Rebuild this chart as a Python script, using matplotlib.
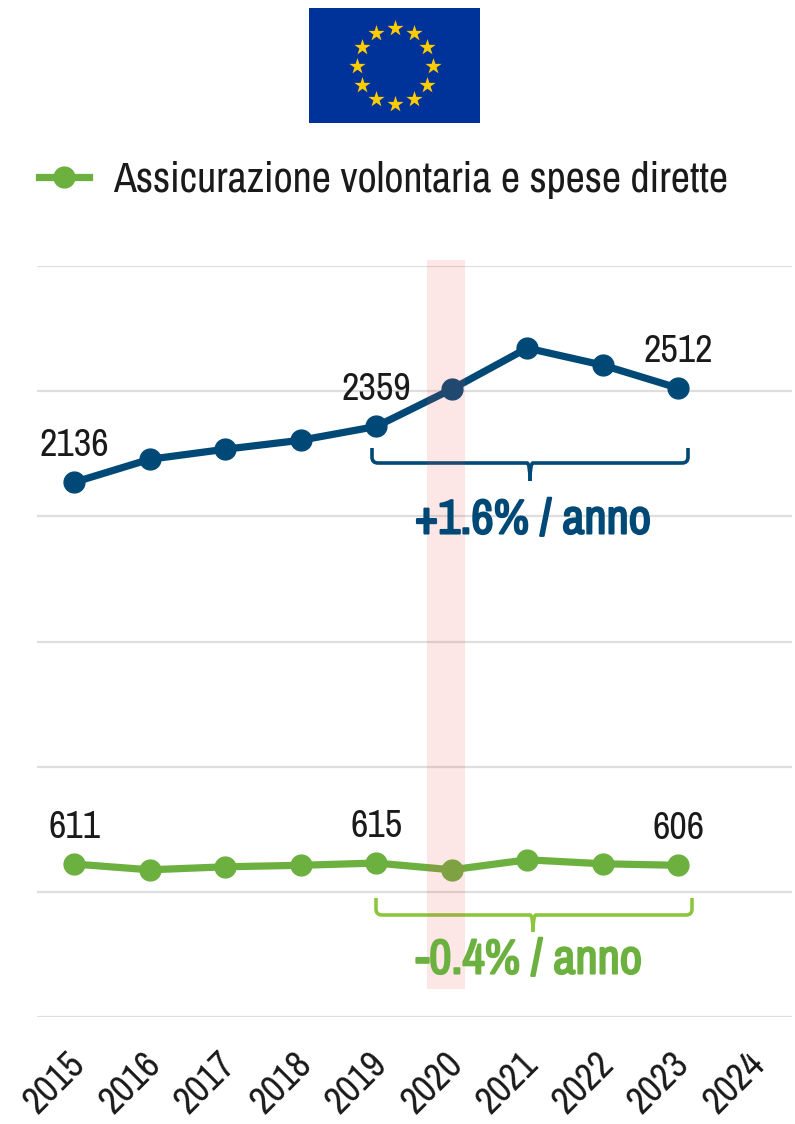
import numpy as np
import matplotlib
matplotlib.use("Agg")
import matplotlib.pyplot as plt
import matplotlib.patheffects as pe
from matplotlib.path import Path
from matplotlib.patches import PathPatch, Rectangle
from matplotlib.transforms import ScaledTranslation

plt.rcParams['font.family'] = ['Archivo Narrow', 'Roboto Condensed', 'Liberation Sans', 'DejaVu Sans']

years = ['2015', '2016', '2017', '2018', '2019', '2020', '2021', '2022', '2023', '2024']
pubblica = [2136, 2228, 2268, 2304, 2359, 2508, 2672, 2604, 2512]
volontaria = [611, 588, 600, 606, 615, 588, 628, 612, 606]
yticks = [0, 500, 1000, 1500, 2000, 2500, 3000]
labelled = [0, 4, 8]
legend_label = 'Assicurazione volontaria e spese dirette'

navy = '#004976'
green = '#6CB03F'
bracket_green = '#8CC63F'
W, H = 795, 1124

fig = plt.figure(figsize=(W / 100, H / 100), dpi=100)
ax = fig.add_axes([36.5 / W, 1 - 1017 / H, (791.5 - 36.5) / W, (1017 - 266) / H])
ax.set_xlim(-0.5, 9.5)
ax.set_ylim(0, 3000)
ax.set_yticks(yticks)
ax.set_xticks(range(len(years)))
ax.set_xticklabels(years, rotation=45, ha='right', rotation_mode='anchor', fontsize=27.5, color='#1a1a1a')
ax.tick_params(axis='both', length=0)
ax.tick_params(axis='x', pad=21)
ax.tick_params(axis='y', labelleft=False)
ax.grid(axis='y', color='#DEDEDE', lw=1.6)
ax.set_axisbelow(True)
for s in ax.spines.values():
    s.set_visible(False)
for lab in ax.get_xticklabels():
    lab.set_transform(lab.get_transform() + ScaledTranslation(-7 / 100, 0, fig.dpi_scale_trans))

x = np.arange(len(pubblica))
ax.plot(x, pubblica, color=navy, lw=5.2, marker='o', ms=15, clip_on=False)
line2, = ax.plot(x, volontaria, color=green, lw=5.2, marker='o', ms=15, clip_on=False)

for series in (pubblica, volontaria):
    for i in labelled:
        ax.annotate(str(series[i]), (x[i], series[i]), xytext=(0, 26.5), textcoords='offset points',
                    ha='center', va='center', fontsize=27.5, color='#1a1a1a')

fig.legend([line2], [legend_label], loc='center left', bbox_to_anchor=(39 / W, 1 - 180 / H),
           frameon=False, fontsize=30.2, handlelength=1.2, handletextpad=0.57, borderpad=0, borderaxespad=0,
           labelcolor='#1a1a1a')

# overlay in pixel coordinates: flag, band, brackets
ov = fig.add_axes([0, 0, 1, 1], facecolor='none')
ov.set_xlim(0, W)
ov.set_ylim(H, 0)
ov.axis('off')

ov.add_patch(Rectangle((309, 8), 171, 115, color='#003399', lw=0))
ang = np.deg2rad(np.arange(0, 360, 30))
ov.scatter(394.5 + 38 * np.sin(ang), 66 - 38 * np.cos(ang), marker='*', s=150, color='#FFCC00', lw=0)


def bracket(x0, x1, xm, ytop, ybar, ytip, color):
    r = 6
    verts = [(x0, ytop), (x0, ybar - r), (x0, ybar), (x0 + r, ybar), (xm - 3, ybar), (xm, ybar), (xm, ytip)]
    codes = [Path.MOVETO, Path.LINETO, Path.CURVE3, Path.CURVE3, Path.LINETO, Path.CURVE3, Path.CURVE3]
    verts2 = [(x1, ytop), (x1, ybar - r), (x1, ybar), (x1 - r, ybar), (xm + 3, ybar), (xm, ybar), (xm, ytip)]
    for v in (verts, verts2):
        ov.add_patch(PathPatch(Path(v, codes), fill=False, ec=color, lw=2.6, capstyle='butt', zorder=2))


bracket(372, 688, 530, 448, 463, 481, navy)
bracket(376, 692, 533, 898, 915, 932, bracket_green)

ov.add_patch(Rectangle((427, 260), 38, 729, color='#F05050', alpha=0.14, lw=0, zorder=3))

# variable font has no bold face here, so thicken with a stroke
for txt, col, tx, ty in (('+1.6% / anno', navy, 533, 520), ('-0.4% / anno', green, 529, 960)):
    ov.text(tx, ty, txt, color=col, fontsize=35, fontweight='bold', ha='center', va='center', zorder=4,
            path_effects=[pe.withStroke(linewidth=1.5, foreground=col)])

fig.savefig('out.png', dpi=100)
